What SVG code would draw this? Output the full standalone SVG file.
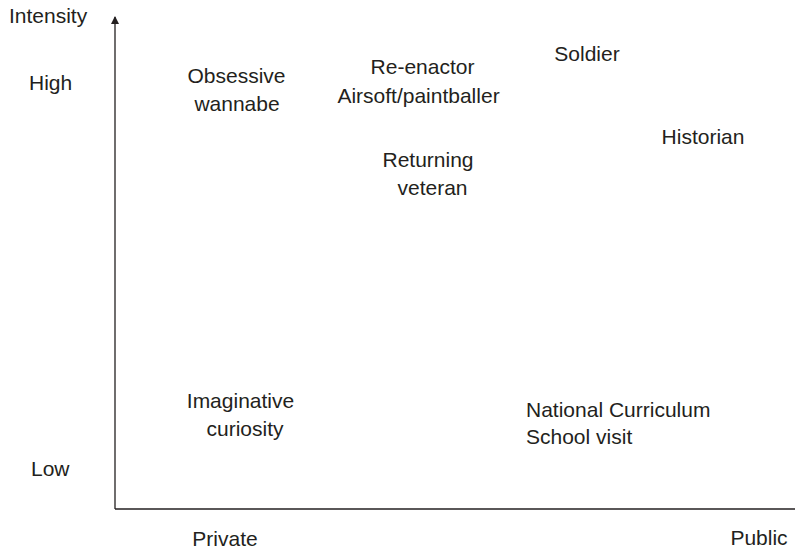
<svg xmlns="http://www.w3.org/2000/svg" width="795" height="550" viewBox="0 0 795 550">
<style>
text{font-family:"Liberation Sans",Arial,Helvetica,sans-serif;font-size:21px;fill:#231f20}
.m{text-anchor:middle}
.ax{stroke:#231f20;stroke-width:1.3;fill:none}
</style>
<defs>
<marker id="arr" viewBox="0 0 8 10" refX="7" refY="5" markerWidth="8" markerHeight="10" markerUnits="userSpaceOnUse" orient="auto">
<path d="M0,1 L8,5 L0,9 Z" fill="#231f20"/>
</marker>
</defs>
<rect width="795" height="550" fill="#fff"/>
<g id="connectors">
<line class="ax" x1="115" y1="509" x2="115" y2="17" marker-end="url(#arr)"/>
<line class="ax" x1="115" y1="509" x2="795" y2="509"/>
</g>
<g id="axis-labels">
<text x="9" y="23">Intensity</text>
<text x="29" y="90">High</text>
<text x="31" y="476">Low</text>
<text class="m" x="225" y="546">Private</text>
<text class="m" x="759" y="545">Public</text>
</g>
<g id="obsessive-wannabe">
<text class="m" x="236.5" y="83">Obsessive</text>
<text class="m" x="237" y="111">wannabe</text>
</g>
<g id="reenactor">
<text class="m" x="422.5" y="74">Re-enactor</text>
<text class="m" x="418.5" y="103">Airsoft/paintballer</text>
</g>
<g id="soldier">
<text class="m" x="587" y="61">Soldier</text>
</g>
<g id="historian">
<text class="m" x="703" y="144">Historian</text>
</g>
<g id="returning-veteran">
<text class="m" x="428" y="167">Returning</text>
<text class="m" x="432.5" y="195">veteran</text>
</g>
<g id="imaginative-curiosity">
<text class="m" x="240.5" y="408">Imaginative</text>
<text class="m" x="245" y="436">curiosity</text>
</g>
<g id="national-curriculum">
<text x="526" y="417">National Curriculum</text>
<text x="526" y="444">School visit</text>
</g>
</svg>
